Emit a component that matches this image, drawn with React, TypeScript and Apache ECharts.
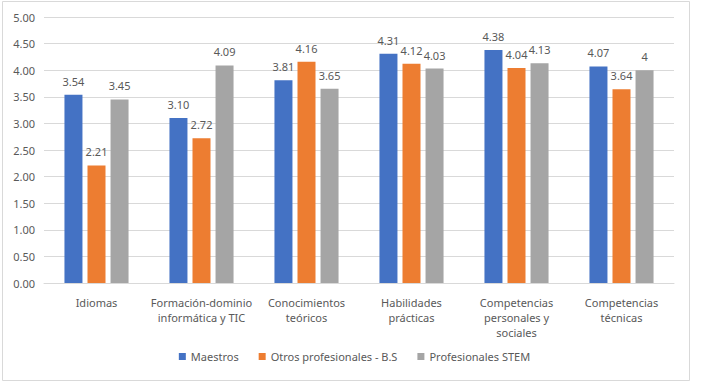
import React, { useEffect, useRef } from "react";
import * as echarts from "echarts";

const categories = [
  "Idiomas",
  "Formación-dominio\ninformática y TIC",
  "Conocimientos\nteóricos",
  "Habilidades\nprácticas",
  "Competencias\npersonales y\nsociales",
  "Competencias\ntécnicas",
];
const seriesNames = ["Maestros", "Otros profesionales - B.S", "Profesionales STEM"];
const maestros = [3.54, 3.1, 3.81, 4.31, 4.38, 4.07];
const otros = [2.21, 2.72, 4.16, 4.12, 4.04, 3.64];
const stem = [3.45, 4.09, 3.65, 4.03, 4.13, 4.0];
const maestrosLabels = ["3.54", "3.10", "3.81", "4.31", "4.38", "4.07"];
const otrosLabels = ["2.21", "2.72", "4.16", "4.12", "4.04", "3.64"];
const stemLabels = ["3.45", "4.09", "3.65", "4.03", "4.13", "4"];
const yTicks = [0, 0.5, 1, 1.5, 2, 2.5, 3, 3.5, 4, 4.5, 5];

const colors = ["#4472C4", "#ED7D31", "#A5A5A5"];
const FONT = "Noto Sans";
const TXT = "#595959";

export default function App() {
  const ref = useRef<HTMLDivElement>(null);
  useEffect(() => {
    if (!ref.current) return;
    const chart = echarts.init(ref.current, undefined, { renderer: "svg" });
    const values = [maestros, otros, stem];
    const labels = [maestrosLabels, otrosLabels, stemLabels];
    chart.setOption({
      animation: false,
      textStyle: { fontFamily: FONT },
      color: colors,
      graphic: [
        {
          type: "rect",
          shape: { x: 2.5, y: 1.5, width: 687, height: 379 },
          style: { fill: "none", stroke: "#D9D9D9", lineWidth: 1 },
          silent: true,
        },
      ],
      grid: { left: 44, right: 35, top: 17, bottom: 100, containLabel: false },
      legend: {
        bottom: 16,
        left: "center",
        itemWidth: 7,
        itemHeight: 7,
        itemGap: 20,
        icon: "rect",
        textStyle: { color: TXT, fontSize: 11, fontFamily: FONT },
        data: seriesNames,
      },
      xAxis: {
        type: "category",
        data: categories,
        axisLine: { lineStyle: { color: "#D9D9D9" } },
        axisTick: { show: false },
        axisLabel: {
          color: TXT,
          fontSize: 11,
          lineHeight: 15,
          margin: 12,
          interval: 0,
          fontFamily: FONT,
        },
      },
      yAxis: {
        type: "value",
        min: yTicks[0],
        max: yTicks[yTicks.length - 1],
        interval: 0.5,
        axisLine: { show: false },
        axisTick: { show: false },
        splitLine: { lineStyle: { color: "#D9D9D9" } },
        axisLabel: {
          color: TXT,
          fontSize: 11,
          margin: 9,
          fontFamily: FONT,
          formatter: (v: number) => v.toFixed(2),
        },
      },
      series: seriesNames.map((name, i) => ({
        name,
        type: "bar",
        data: values[i],
        barWidth: 18,
        barGap: "28%",
        itemStyle: { color: colors[i] },
        label: {
          show: true,
          position: "top",
          distance: 8,
          color: TXT,
          fontSize: 11,
          fontFamily: FONT,
          formatter: (p: any) => labels[i][p.dataIndex],
        },
      })),
    });
    return () => chart.dispose();
  }, []);
  return (
    <div
      ref={ref}
      style={{ position: "absolute", left: 0, top: 0, width: 709, height: 383 }}
    />
  );
}
